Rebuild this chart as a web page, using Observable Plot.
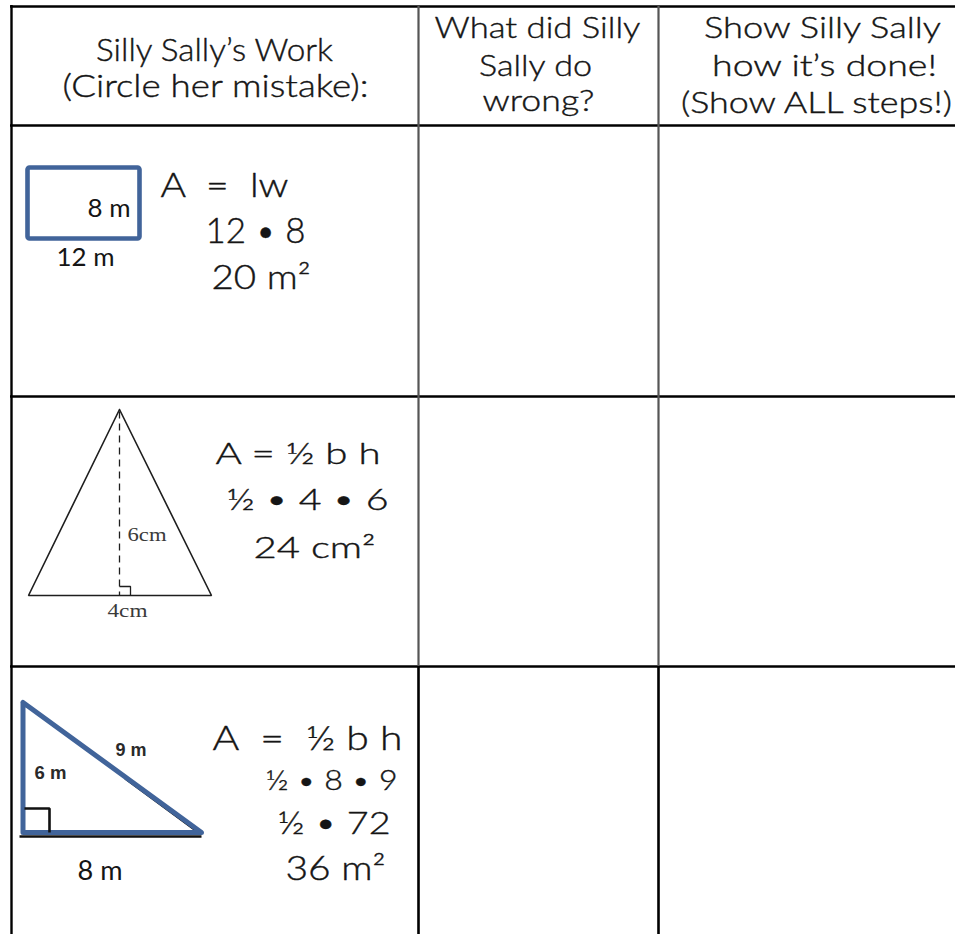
<!DOCTYPE html>
<html>
<head>
<meta charset="utf-8">
<script src="https://cdn.jsdelivr.net/npm/d3@7"></script>
<script src="https://cdn.jsdelivr.net/npm/@observablehq/plot@0.6"></script>
<style>
  html, body { margin: 0; padding: 0; background: #fff; }
  #chart svg text { white-space: pre; }
</style>
</head>
<body>
<div id="chart"></div>
<script>
// ---------- content ----------
const headerCol1 = ["Silly Sally’s Work", "(Circle her mistake):"];
const headerCol2 = ["What did Silly", "Sally do", "wrong?"];
const headerCol3 = ["Show Silly Sally", "how it’s done!", "(Show ALL steps!)"];
const rectWork = ["A  =  lw", "12 • 8", "20 m²"];
const rectLabels = ["8 m", "12 m"];
const triWork = ["A = ½ b h", "½ • 4 • 6", "24 cm²"];
const triLabels = ["6cm", "4cm"];
const rightTriWork = ["A  =  ½ b h", "½ • 8 • 9", "½ • 72", "36 m²"];
const rightTriSideLabels = ["9 m", "6 m"];
const rightTriBaseLabel = ["8 m"];

// ---------- layout (page pixel units) ----------
const W = 955, H = 934;
const colEdges = [11, 418, 658, 955];
const rowEdges = [6, 125, 396, 666, 934];
// [x, baseline, fontSize, width]
const headerLayout = [
  [[214, 60, 31, 237], [215, 96, 31, 306]],
  [[537, 37, 30, 206], [535, 75, 30, 113], [538, 110, 30, 112]],
  [[822, 37, 30, 237], [824, 75, 30, 225], [816, 112, 30, 271]]
];
const rectWorkLayout = [[160, 196, 33, 128], [205, 242, 36, 100], [211, 288, 34, 99]];
const rectLabelLayout = [[87, 216, 25, 43], [56, 265, 25, 58]];
const triWorkLayout = [[215, 463, 30, 165], [226, 509, 29, 162], [253, 557, 29, 122]];
const triLabelLayout = [[127, 540, 19, 39], [107, 616, 19, 40]];
const rightTriWorkLayout = [[212, 749, 33, 190], [265, 789, 28, 132], [277, 833, 32, 113], [285, 879, 33, 100]];
const rightTriSideLayout = [[115, 755, 18, 31], [34, 778, 18, 32]];
const rightTriBaseLayout = [[77, 879, 26, 45]];

const rectShape = [{x1: 27.5, x2: 139.5, y1: 167.5, y2: 238.5}];
const triPoints = [{x: 119, y: 409}, {x: 28, y: 595}, {x: 211, y: 595}, {x: 119, y: 409}];
const triHeight = [{x1: 119, y1: 411, x2: 119, y2: 595}];
const triRightAngle = [{x: 119, y: 586}, {x: 130, y: 586}, {x: 130, y: 595}];
const rtPoints = [{x: 22.5, y: 702}, {x: 22.5, y: 832}, {x: 201, y: 832}, {x: 22.5, y: 702}];
const rtShadow = [{x: 19, y: 836}, {x: 201, y: 836}];
const rtHypShadow = [{x: 125, y: 778.5}, {x: 199, y: 833}];
const rtRightAngle = [{x: 24, y: 808}, {x: 49, y: 808}, {x: 49, y: 832}];

const blue = "#41649a";

// ---------- assemble ----------
function place(texts, layout) {
  return texts.map((t, i) => ({
    text: t, x: layout[i][0], y: layout[i][1], size: layout[i][2], w: layout[i][3]
  }));
}
const headerItems = [
  ...place(headerCol1, headerLayout[0]),
  ...place(headerCol2, headerLayout[1]),
  ...place(headerCol3, headerLayout[2])
];
const latoItems = [
  ...place(rectWork, rectWorkLayout),
  ...place(triWork, triWorkLayout),
  ...place(rightTriWork, rightTriWorkLayout)
];
const labelItems = [
  ...place(rectLabels, rectLabelLayout),
  ...place(rightTriBaseLabel, rightTriBaseLayout)
];
const serifItems = place(triLabels, triLabelLayout);
const boldItems = place(rightTriSideLabels, rightTriSideLayout);

const hLines = rowEdges.slice(0, 4);
const vOuter = [{x: colEdges[0], y1: rowEdges[0] - 1, y2: H}];
const vInnerGray = [1, 2].map(i => ({x: colEdges[i], y1: rowEdges[0], y2: rowEdges[3]}));
const vInnerBlack = [1, 2].map(i => ({x: colEdges[i], y1: rowEdges[3], y2: H}));

const textGroups = [headerItems, latoItems, labelItems, serifItems, boldItems];

const chart = Plot.plot({
  width: W,
  height: H,
  margin: 0,
  x: {domain: [0, W], range: [0, W], axis: null},
  y: {domain: [0, H], range: [0, H], axis: null},
  style: {background: "#fff"},
  marks: [
    Plot.ruleY(hLines, {y: d => d, x1: colEdges[0] - 1, x2: W, stroke: "#000", strokeWidth: 2.4}),
    Plot.ruleX(vInnerGray, {x: "x", y1: "y1", y2: "y2", stroke: "#555", strokeWidth: 2.2}),
    Plot.ruleX(vInnerBlack, {x: "x", y1: "y1", y2: "y2", stroke: "#000", strokeWidth: 2.6}),
    Plot.ruleX(vOuter, {x: "x", y1: "y1", y2: "y2", stroke: "#000", strokeWidth: 2.4}),
    // rectangle
    Plot.rect(rectShape, {x1: "x1", x2: "x2", y1: "y1", y2: "y2", fill: "none", stroke: blue, strokeWidth: 4.6, rx: 2}),
    // isosceles triangle
    Plot.line(triPoints, {x: "x", y: "y", stroke: "#1e1e1e", strokeWidth: 1.6, strokeLinejoin: "miter"}),
    Plot.link(triHeight, {x1: "x1", y1: "y1", x2: "x2", y2: "y2", stroke: "#1e1e1e", strokeWidth: 1.3, strokeDasharray: "7,5"}),
    Plot.line(triRightAngle, {x: "x", y: "y", stroke: "#1e1e1e", strokeWidth: 1.3, strokeLinejoin: "miter", strokeLinecap: "butt"}),
    // right triangle
    Plot.line(rtShadow, {x: "x", y: "y", stroke: "#111", strokeWidth: 2.5, strokeLinecap: "butt"}),
    Plot.line(rtHypShadow, {x: "x", y: "y", stroke: "#111", strokeWidth: 2}),
    Plot.line(rtPoints, {x: "x", y: "y", stroke: blue, strokeWidth: 5, strokeLinejoin: "round", strokeLinecap: "round"}),
    Plot.line(rtRightAngle, {x: "x", y: "y", stroke: "#111", strokeWidth: 2.6, strokeLinejoin: "miter", strokeLinecap: "butt"}),
    // texts
    Plot.text(headerItems, {x: "x", y: "y", text: "text", fontSize: "size", textAnchor: "middle", lineAnchor: "bottom", fontFamily: "Lato", fontWeight: 300, fill: "#151515", stroke: "#151515", strokeWidth: 0.4}),
    Plot.text(latoItems, {x: "x", y: "y", text: "text", fontSize: "size", textAnchor: "start", lineAnchor: "bottom", fontFamily: "Lato", fontWeight: 300, fill: "#151515", stroke: "#151515", strokeWidth: 0.4}),
    Plot.text(labelItems, {x: "x", y: "y", text: "text", fontSize: "size", textAnchor: "start", lineAnchor: "bottom", fontFamily: "Lato", fontWeight: 400, fill: "#151515"}),
    Plot.text(serifItems, {x: "x", y: "y", text: "text", fontSize: "size", textAnchor: "start", lineAnchor: "bottom", fontFamily: "Liberation Serif", fill: "#3a3a3a"}),
    Plot.text(boldItems, {x: "x", y: "y", text: "text", fontSize: "size", textAnchor: "start", lineAnchor: "bottom", fontFamily: "Liberation Sans Narrow, Liberation Sans", fontWeight: "bold", fill: "#2a2a2a"})
  ]
});

// fit each text line to the width it has in the reference
const groups = chart.querySelectorAll('g[aria-label="text"]');
groups.forEach((g, gi) => {
  const items = textGroups[gi];
  g.querySelectorAll("text").forEach((t, i) => {
    if (items && items[i]) {
      t.setAttribute("textLength", items[i].w);
      t.setAttribute("lengthAdjust", "spacingAndGlyphs");
    }
  });
});

document.getElementById("chart").appendChild(chart);
</script>
</body>
</html>
